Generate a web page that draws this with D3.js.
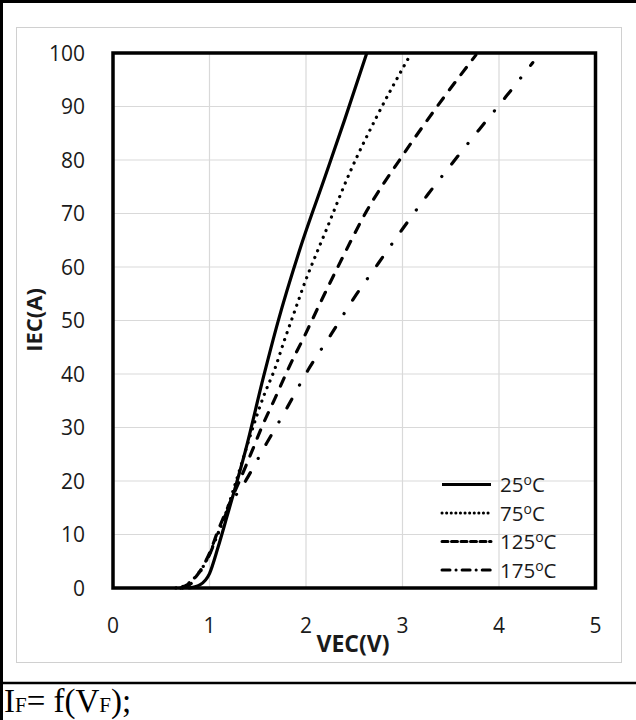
<!DOCTYPE html>
<html>
<head>
  <style>
    body { margin: 0; padding: 0; background: #fff; }
    svg { display: block; }
  </style>
</head>
<body>
  <div id="chart"></div>
  <script src="https://d3js.org/d3.v7.min.js"></script>
  <script>
    // forward characteristics IEC vs VEC
    const temps = ['25', '75', '125', '175'];
    const curve25 = [[0.78,0],[0.9,0.6],[1.0,2.7],[1.09,7.7],[1.18,13.3],[1.28,19.6],[1.37,25.5],[1.56,39.5],[1.71,49.8],[1.94,63.5],[2.2,77],[2.4,87.5],[2.63,100]];
    const curve75 = [[0.65,0],[0.75,0.5],[0.85,2],[0.95,4.5],[1.05,8.5],[1.15,13],[1.25,18.5],[1.38,26],[1.45,30],[1.56,35.8],[1.68,41.1],[1.78,46.5],[1.88,51.6],[1.99,57.2],[2.11,62.6],[2.2,66.5],[2.45,77.5],[2.73,88],[3.06,99]];
    const curve125 = [[0.7,0],[0.8,1],[0.91,3.4],[1.0,6.5],[1.09,10.8],[1.2,15.5],[1.31,20],[1.45,26],[1.54,30],[1.68,35.5],[1.83,41.5],[1.99,47.3],[2.14,53],[2.33,60],[2.63,70.5],[3.0,80.8],[3.42,91.5],[3.76,99.6]];
    const curve175 = [[0.72,0],[0.82,1],[0.91,3.2],[1.0,6.2],[1.09,10.3],[1.2,15],[1.38,20.2],[1.59,27],[1.69,30.1],[1.81,33.9],[2.02,40.7],[2.26,47.4],[2.49,54],[2.75,60.7],[3.0,67.1],[3.26,73.5],[3.52,79.5],[3.8,85.8],[4.07,91.8],[4.35,98.2]];
    const xTicks = [0, 1, 2, 3, 4, 5];
    const yTicks = [0, 10, 20, 30, 40, 50, 60, 70, 80, 90, 100];

    const W = 636, H = 720;
    const svg = d3.select('#chart').append('svg')
      .attr('width', W).attr('height', H);
    svg.append('rect').attr('width', W).attr('height', H).attr('fill', '#fff');

    // table frame around the figure
    svg.append('line').attr('x1', 0).attr('x2', W).attr('y1', 1.5).attr('y2', 1.5)
      .attr('stroke', '#000').attr('stroke-width', 3);
    svg.append('line').attr('x1', 1.5).attr('x2', 1.5).attr('y1', 0).attr('y2', H)
      .attr('stroke', '#000').attr('stroke-width', 3);
    svg.append('line').attr('x1', 0).attr('x2', W).attr('y1', 683).attr('y2', 683)
      .attr('stroke', '#000').attr('stroke-width', 2.5);

    // chart area border
    svg.append('rect').attr('x', 16.5).attr('y', 27.5).attr('width', 605).attr('height', 635)
      .attr('fill', 'none').attr('stroke', '#d0d0d0').attr('stroke-width', 1);

    const x = d3.scaleLinear().domain([0, 5]).range([113, 595.5]);
    const y = d3.scaleLinear().domain([0, 100]).range([588, 53]);

    // grid
    svg.append('g').selectAll('line').data(xTicks.slice(1, -1)).join('line')
      .attr('x1', d => x(d)).attr('x2', d => x(d)).attr('y1', y(0)).attr('y2', y(100))
      .attr('stroke', '#d9d9d9').attr('stroke-width', 1.2);
    svg.append('g').selectAll('line').data(yTicks.slice(1, -1)).join('line')
      .attr('x1', x(0)).attr('x2', x(5)).attr('y1', d => y(d)).attr('y2', d => y(d))
      .attr('stroke', '#d9d9d9').attr('stroke-width', 1.2);

    // tick labels
    const font = "'Open Sans', 'DejaVu Sans', sans-serif";
    svg.append('g').selectAll('text').data(yTicks).join('text')
      .attr('x', 85).attr('y', d => y(d)).attr('dy', '0.36em')
      .attr('text-anchor', 'end').attr('font-family', font).attr('font-size', 21)
      .attr('fill', '#1a1a1a').text(d => d);
    svg.append('g').selectAll('text').data(xTicks).join('text')
      .attr('x', d => x(d)).attr('y', 633)
      .attr('text-anchor', 'middle').attr('font-family', font).attr('font-size', 21)
      .attr('fill', '#1a1a1a').text(d => d);

    // axis titles
    svg.append('text').attr('x', 353).attr('y', 652)
      .attr('text-anchor', 'middle').attr('font-family', font).attr('font-size', 23)
      .attr('font-weight', 'bold').attr('fill', '#1a1a1a').text('VEC(V)');
    svg.append('text').attr('transform', 'translate(42,320) rotate(-90)')
      .attr('text-anchor', 'middle').attr('font-family', font).attr('font-size', 22)
      .attr('font-weight', 'bold').attr('fill', '#1a1a1a').text('IEC(A)');

    // curves
    const styles = [
      { data: curve25, dash: null },
      { data: curve75, dash: '0.1 7.2' },
      { data: curve125, dash: '9 10' },
      { data: curve175, dash: '10 16 0.1 16' }
    ];
    const line = d3.line().x(d => x(d[0])).y(d => y(d[1])).curve(d3.curveMonotoneX);
    svg.append('g').selectAll('path').data(styles).join('path')
      .attr('d', d => line(d.data))
      .attr('fill', 'none').attr('stroke', '#000').attr('stroke-width', 3.2)
      .attr('stroke-linecap', d => d.dash ? 'round' : 'butt')
      .attr('stroke-dasharray', d => d.dash);

    // plot frame
    svg.append('rect').attr('x', x(0)).attr('y', y(100))
      .attr('width', x(5) - x(0)).attr('height', y(0) - y(100))
      .attr('fill', 'none').attr('stroke', '#000').attr('stroke-width', 3.5);

    // legend
    const legendDash = [null, '0.1 4.5', '6 3.5', '8 6 0.1 6'];
    const legendY = [484.5, 513, 541.5, 570];
    const lg = svg.append('g').selectAll('g').data(temps).join('g')
      .attr('transform', (d, i) => `translate(0,${legendY[i]})`);
    lg.append('line').attr('x1', 442).attr('x2', 491).attr('y1', 0).attr('y2', 0)
      .attr('stroke', '#000').attr('stroke-width', 3)
      .attr('stroke-linecap', (d, i) => legendDash[i] ? 'round' : 'butt')
      .attr('stroke-dasharray', (d, i) => legendDash[i]);
    const lt = lg.append('text').attr('x', 500).attr('y', 7.5)
      .attr('font-family', font).attr('font-size', 20.5).attr('fill', '#1a1a1a');
    lt.append('tspan').text(d => d);
    lt.append('tspan').attr('font-size', 14).attr('dy', -7).text('o');
    lt.append('tspan').attr('dy', 7).text('C');

    // caption below the figure
    const cap = svg.append('text').attr('x', 4).attr('y', 712)
      .attr('font-family', "'Liberation Serif', 'Times New Roman', serif")
      .attr('font-size', 33).attr('fill', '#000');
    cap.append('tspan').text('I');
    cap.append('tspan').attr('font-size', 21).text('F');
    cap.append('tspan').text('= f(V');
    cap.append('tspan').attr('font-size', 21).text('F');
    cap.append('tspan').text(');');
  </script>
</body>
</html>
